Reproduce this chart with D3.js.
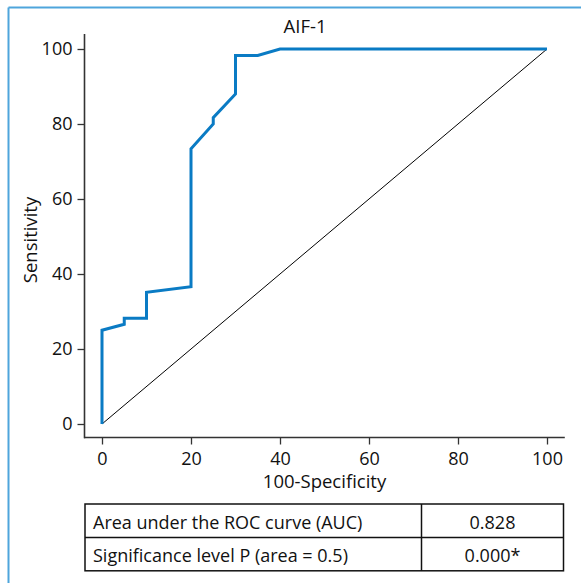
<!DOCTYPE html>
<html>
<head>
<meta charset="utf-8">
<script src="https://cdn.jsdelivr.net/npm/d3@7"></script>
<style>
  body { margin: 0; background: #fff; }
  svg { display: block; font-family: "Open Sans", "Noto Sans", sans-serif; }
</style>
</head>
<body>
<svg id="plot" width="581" height="583"></svg>
<script>
// ROC curve points (100-Specificity, Sensitivity)
const FPR = [0, 0, 5, 5, 10, 10, 20, 20, 25, 25, 30, 30, 35, 40, 100];
const TPR = [0, 25, 26.6, 28.2, 28.2, 35.1, 36.6, 73.4, 80, 81.7, 88, 98.3, 98.3, 100, 100];
const TICKS = [0, 20, 40, 60, 80, 100];
const TITLE = 'AIF-1';
const TABLE_LABELS = ['Area under the ROC curve (AUC)', 'Significance level P (area = 0.5)'];
const TABLE_VALUES = ['0.828', '0.000*'];

const FONT = '"Open Sans", "Noto Sans", sans-serif';
const svg = d3.select('#plot');

const x = d3.scaleLinear().domain([0, 100]).range([102, 547]);
const y = d3.scaleLinear().domain([0, 100]).range([424, 49]);

// light blue frame
svg.append('line').attr('x1', 8.5).attr('x2', 8.5).attr('y1', 7.5).attr('y2', 583)
  .attr('stroke', '#4ea5dc').attr('stroke-width', 2);
svg.append('line').attr('x1', 8.5).attr('x2', 581).attr('y1', 7.5).attr('y2', 7.5)
  .attr('stroke', '#4ea5dc').attr('stroke-width', 2);

// axes
const axisColor = '#333';
const yAxis = svg.append('g')
  .attr('transform', `translate(${Math.round(x(-4)) + 0.5},0)`)
  .call(d3.axisLeft(y).tickValues(TICKS).tickSize(7).tickPadding(5).tickSizeOuter(0));
yAxis.select('.domain').remove();
yAxis.append('line')
  .attr('y1', y(104)).attr('y2', y(-3.5) + 1)
  .attr('stroke', axisColor).attr('stroke-width', 1.6);

const xAxis = svg.append('g')
  .attr('transform', `translate(0,${Math.round(y(-3.5)) + 0.5})`)
  .call(d3.axisBottom(x).tickValues(TICKS).tickSize(7).tickPadding(8).tickSizeOuter(0));
xAxis.select('.domain').remove();
xAxis.append('line')
  .attr('x1', Math.round(x(-4))).attr('x2', x(104))
  .attr('stroke', axisColor).attr('stroke-width', 1.6);

svg.selectAll('.tick line').attr('stroke', axisColor).attr('stroke-width', 1.3);
svg.selectAll('.tick text').attr('font-size', 18).attr('fill', '#111')
  .attr('font-family', FONT);

// axis titles
svg.append('text')
  .attr('x', x(50)).attr('y', 488)
  .attr('text-anchor', 'middle').attr('font-size', 18.5).attr('fill', '#111')
  .text('100-Specificity');
svg.append('text')
  .attr('transform', `translate(37,240) rotate(-90)`)
  .attr('text-anchor', 'middle').attr('font-size', 18.5).attr('fill', '#111')
  .text('Sensitivity');

// title
svg.append('text')
  .attr('x', 305).attr('y', 33)
  .attr('text-anchor', 'middle').attr('font-size', 18.5).attr('fill', '#111')
  .text(TITLE);

// reference diagonal
svg.append('line')
  .attr('x1', x(0)).attr('y1', y(0)).attr('x2', x(100)).attr('y2', y(100))
  .attr('stroke', '#000').attr('stroke-width', 1);

// ROC curve
const points = FPR.map((f, i) => [f, TPR[i]]);
svg.append('path')
  .datum(points)
  .attr('fill', 'none')
  .attr('stroke', '#0a7bc4')
  .attr('stroke-width', 3)
  .attr('stroke-linejoin', 'miter')
  .attr('d', d3.line().x(d => x(d[0])).y(d => y(d[1])));

// results table
const tLeft = 85, tRight = 563.5, tDiv = 421.5, tTop = 504, rowH = 33.4;
const table = svg.append('g');
table.append('rect')
  .attr('x', tLeft).attr('y', tTop)
  .attr('width', tRight - tLeft).attr('height', rowH * TABLE_LABELS.length)
  .attr('fill', 'none').attr('stroke', '#111').attr('stroke-width', 1.5);
table.append('line')
  .attr('x1', tDiv).attr('x2', tDiv).attr('y1', tTop).attr('y2', tTop + rowH * TABLE_LABELS.length)
  .attr('stroke', '#111').attr('stroke-width', 1.5);
table.append('line')
  .attr('x1', tLeft).attr('x2', tRight).attr('y1', tTop + rowH).attr('y2', tTop + rowH)
  .attr('stroke', '#111').attr('stroke-width', 1.5);

table.selectAll('text.lab')
  .data(TABLE_LABELS)
  .enter().append('text')
  .attr('class', 'lab')
  .attr('x', tLeft + 8)
  .attr('y', (d, i) => tTop + rowH * i + 25)
  .attr('font-size', 18).attr('fill', '#111')
  .text(d => d);
table.selectAll('text.val')
  .data(TABLE_VALUES)
  .enter().append('text')
  .attr('class', 'val')
  .attr('x', (tDiv + tRight) / 2)
  .attr('y', (d, i) => tTop + rowH * i + 25)
  .attr('text-anchor', 'middle')
  .attr('font-size', 18).attr('fill', '#111')
  .text(d => d);
</script>
</body>
</html>
